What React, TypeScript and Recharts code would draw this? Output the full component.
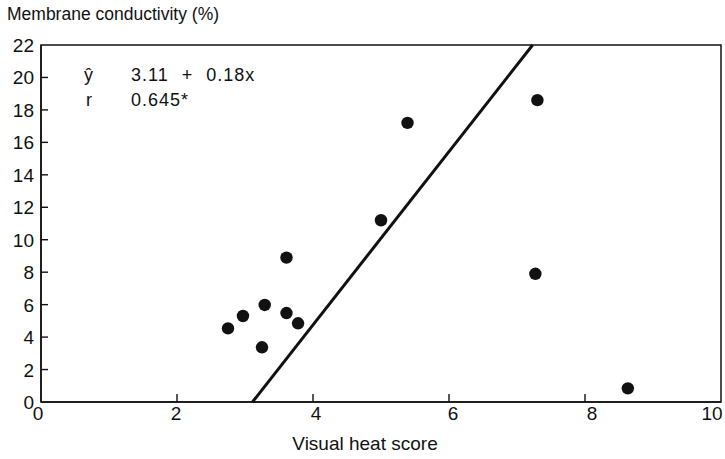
import { ScatterChart, Scatter, XAxis, YAxis, ReferenceLine, ReferenceArea } from "recharts";

const heatScore = [2.75, 2.97, 3.29, 3.25, 3.61, 3.61, 3.78, 5.0, 5.39, 7.3, 7.27, 8.63];
const conductivity = [4.54, 5.3, 5.98, 3.37, 8.9, 5.48, 4.85, 11.2, 17.2, 18.6, 7.9, 0.84];
const fitStart = { x: 3.11, y: 0 };
const fitEnd = { x: 7.23, y: 22 };
const xTicks = [0, 2, 4, 6, 8, 10];
const yTicks = [0, 2, 4, 6, 8, 10, 12, 14, 16, 18, 20, 22];

const points = heatScore.map((x, i) => ({ x, y: conductivity[i] }));
// inner tick marks, placed through the chart's own scales
const xTickMarks = xTicks.slice(1, -1).map((t) => ({ x: t, y: 0 }));
const yTickMarks = yTicks.slice(1, -1).map((t) => ({ x: 0, y: t }));

const font = "'Liberation Sans', Arial, sans-serif";
const ink = "#111";

const xShift: Record<number, number> = { 0: -3, 2: -1, 4: 3, 6: 4, 8: 7, 10: -9 };

const renderXTick = (props: any) => {
  const { x, y, payload } = props;
  const v = payload.value;
  return (
    <text x={x + (xShift[v] ?? 0)} y={y + 14} textAnchor="middle" fontSize={19} fill={ink} fontFamily={font}>
      {v}
    </text>
  );
};

const renderYTick = (props: any) => {
  const { x, y, payload } = props;
  return (
    <text x={x + 1} y={y + 7} textAnchor="end" fontSize={19} fill={ink} fontFamily={font}>
      {payload.value}
    </text>
  );
};

export default function App() {
  return (
    <div style={{ position: "absolute", left: 0, top: 0, width: 725, height: 459, background: "#fff", fontFamily: font, color: ink }}>
      <div style={{ position: "absolute", left: 7, top: 4, fontSize: 17.5, lineHeight: "20px" }}>Membrane conductivity (%)</div>
      <div style={{ position: "absolute", left: 84, top: 65, fontSize: 18 }}>ŷ</div>
      <div style={{ position: "absolute", left: 131, top: 65, fontSize: 18, letterSpacing: 1, wordSpacing: 7 }}>3.11 + 0.18x</div>
      <div style={{ position: "absolute", left: 86, top: 90, fontSize: 18 }}>r</div>
      <div style={{ position: "absolute", left: 131, top: 90, fontSize: 18, letterSpacing: 1 }}>0.645*</div>
      <ScatterChart width={725} height={459} margin={{ top: 45, right: 4, bottom: 0, left: 0 }}>
        <XAxis
          type="number"
          dataKey="x"
          domain={[0, 10]}
          ticks={xTicks}
          tickLine={false}
          tickSize={0}
          tickMargin={4}
          height={57}
          axisLine={{ stroke: ink, strokeWidth: 1.5 }}
          tick={renderXTick}
          interval={0}
          label={{ value: "Visual heat score", position: "insideBottom", offset: 9, dx: -16, fontSize: 19, fill: ink, fontFamily: font }}
        />
        <YAxis
          type="number"
          dataKey="y"
          domain={[0, 22]}
          ticks={yTicks}
          tickLine={false}
          tickSize={0}
          tickMargin={8}
          width={41}
          axisLine={{ stroke: ink, strokeWidth: 1.5 }}
          tick={renderYTick}
          interval={0}
        />
        <ReferenceArea x1={0} x2={10} y1={0} y2={22} fill="none" stroke={ink} strokeWidth={1.5} ifOverflow="visible" />
        <ReferenceLine segment={[fitStart, fitEnd]} stroke={ink} strokeWidth={3} ifOverflow="visible" />
        <Scatter
          data={xTickMarks}
          isAnimationActive={false}
          shape={(p: any) => <line x1={p.cx} x2={p.cx} y1={p.cy} y2={p.cy - 8} stroke={ink} strokeWidth={1.4} />}
        />
        <Scatter
          data={yTickMarks}
          isAnimationActive={false}
          shape={(p: any) => <line x1={p.cx} x2={p.cx + 7} y1={p.cy} y2={p.cy} stroke={ink} strokeWidth={1.4} />}
        />
        <Scatter
          data={points}
          isAnimationActive={false}
          shape={(p: any) => <circle cx={p.cx} cy={p.cy} r={6.2} fill={ink} />}
        />
      </ScatterChart>
    </div>
  );
}
